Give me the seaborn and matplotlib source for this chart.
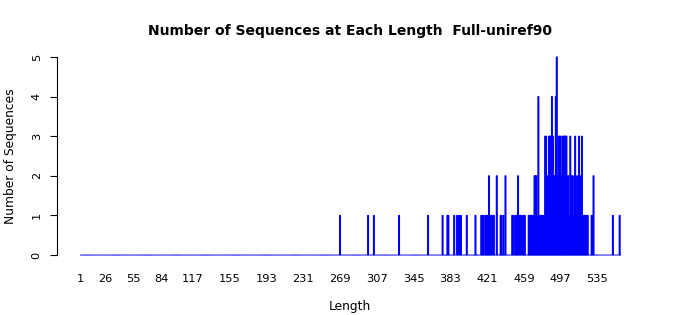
import numpy as np
import pandas as pd
import matplotlib
matplotlib.use("Agg")
import matplotlib.pyplot as plt
import seaborn as sns

# ---- data ----
max_length = 559
nonzero_lengths = [
    269, 298, 304, 330, 360, 375, 380, 381, 387, 390, 392, 394, 400, 409,
    415, 416, 417, 419, 420, 421, 422, 423, 424, 425, 427,
    428, 431, 435, 436, 438, 440,
    447, 448, 450, 451, 452, 453, 455, 456, 458, 459, 460, 464,
    465, 466, 467, 468, 469, 470, 471, 472, 473, 474, 475, 476, 477, 478,
    479, 480, 481, 482, 483, 484, 485, 486, 487, 488, 489, 490, 491, 492,
    493, 494, 495, 496, 497, 498, 499, 500, 501, 502, 503, 504, 505, 506,
    507, 508, 509, 510, 511, 512, 513, 514, 515, 516, 517, 518, 519, 520,
    521, 522, 523, 524, 525, 529, 530, 531, 551, 558,
]
nonzero_counts = [
    1, 1, 1, 1, 1, 1, 1, 1, 1, 1, 1, 1, 1, 1,
    1, 1, 1, 1, 1, 1, 1, 2, 1, 1, 1,
    1, 2, 1, 1, 1, 2,
    1, 1, 1, 1, 1, 2, 1, 1, 1, 1, 1, 1,
    1, 1, 1, 1, 1, 2, 2, 2, 1, 4, 1, 1, 1, 1,
    1, 1, 3, 3, 2, 1, 3, 3, 3, 4, 3, 2, 2, 4,
    5, 2, 3, 3, 3, 2, 3, 3, 3, 3, 3, 2, 2, 1,
    3, 2, 2, 1, 2, 3, 1, 2, 1, 3, 1, 2, 3, 1,
    1, 1, 1, 1, 1, 1, 1, 2, 1, 1,
]
tick_values = [1, 26, 55, 84, 117, 155, 193, 231, 269, 307, 345, 383, 421, 459, 497, 535]
y_ticks = [0, 1, 2, 3, 4, 5]
title = "Number of Sequences at Each Length  Full-uniref90"

lengths = np.arange(1, max_length + 1)
counts = np.zeros_like(lengths)
for L, c in zip(nonzero_lengths, nonzero_counts):
    counts[L - 1] = c
df = pd.DataFrame({"Length": lengths, "Count": counts})

# ---- figure ----
sns.set_theme(style="ticks")
plt.rcParams["font.family"] = ["DejaVu Sans"]
plt.rcParams["text.color"] = "black"
plt.rcParams["axes.labelcolor"] = "black"

W, H = 700, 315
fig = plt.figure(figsize=(W / 100, H / 100), dpi=100)
ax_left, ax_right = 57, 643
ax_top, ax_bottom = 53, 259
ax = fig.add_axes([ax_left / W, (H - ax_bottom) / H,
                   (ax_right - ax_left) / W, (ax_bottom - ax_top) / H])

sns.barplot(data=df, x="Length", y="Count", native_scale=True, color="blue",
            saturation=1, edgecolor="blue", linewidth=0.75, width=1.0,
            errorbar=None, ax=ax)

# keep the baseline of zero-height bars continuous
for p in ax.patches:
    p.set_snap(False)

px_per_unit = (596.7 - 80) / (535 - 1)
x0_px = 80.7
ax.set_xlim(1 - (x0_px - ax_left) / px_per_unit, 1 + (ax_right - x0_px) / px_per_unit)
ax.set_ylim(-0.1, 5.1)

ax.set_xticks(tick_values)
ax.set_xticklabels([str(t) for t in tick_values])
ax.set_yticks(y_ticks)
ax.set_yticklabels([str(t) for t in y_ticks], rotation=90, va="center")

ax.tick_params(axis="x", length=0, pad=10.8, labelsize=8.2, colors="black")
ax.tick_params(axis="y", length=5, width=0.8, pad=6, labelsize=8.2, colors="black")

for s in ["top", "right", "bottom"]:
    ax.spines[s].set_visible(False)
ax.spines["left"].set_bounds(0, 5)
ax.spines["left"].set_color("black")
ax.spines["left"].set_linewidth(0.8)

ax.set_title(title, fontsize=10, fontweight="bold", pad=13, color="black")
ax.set_xlabel("Length", fontsize=8.8)
ax.set_ylabel("Number of Sequences", fontsize=8.8)
ax.xaxis.set_label_coords(0.5, -0.199)
ax.yaxis.set_label_coords(-0.068, 0.5)

fig.savefig("out.png", dpi=100)
